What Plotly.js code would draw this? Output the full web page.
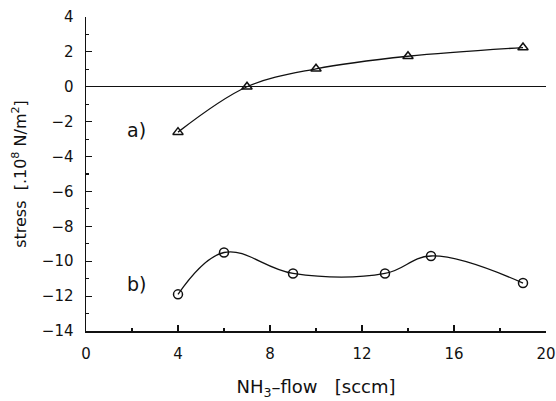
<!DOCTYPE html>
<html>
<head>
<meta charset="utf-8">
<script src="https://cdn.plot.ly/plotly-3.0.1.min.js"></script>
<style>html,body{margin:0;padding:0;background:#fff}#chart{width:556px;height:401px}</style>
</head>
<body>
<div id="chart"></div>
<script>
const flowA = [4, 7, 10, 14, 19];
const stressA = [-2.6, 0.0, 1.03, 1.75, 2.25];
const flowB = [4, 6, 9, 13, 15, 19];
const stressB = [-11.9, -9.5, -10.7, -10.7, -9.7, -11.25];
const seriesLabels = ["a)", "b)"];
const labelPos = [[2.2, -2.5], [2.2, -11.3]];
const yTickVals = [-14, -12, -10, -8, -6, -4, -2, 0, 2, 4];
const yTickText = ["\u221214","\u221212","\u221210","\u22128","\u22126","\u22124","\u22122","0","2","4"];
const xTickVals = [0, 4, 8, 12, 16, 20];

const fontFam = "DejaVu Sans, sans-serif";
const traces = [
  {x: flowA, y: stressA, mode: "lines+markers", line: {shape: "spline", smoothing: 1.0, color: "#111", width: 1.3},
   marker: {symbol: "triangle-up-open", size: 9, color: "#111", line: {width: 1.5}}},
  {x: flowB, y: stressB, mode: "lines+markers", line: {shape: "spline", smoothing: 1.1, color: "#111", width: 1.3},
   marker: {symbol: "circle-open", size: 9, color: "#111", line: {width: 1.5}}}
];
const layout = {
  width: 556, height: 401,
  margin: {l: 86, r: 10, t: 17, b: 70},
  showlegend: false,
  paper_bgcolor: "#fff", plot_bgcolor: "#fff",
  font: {family: fontFam, size: 15, color: "#111"},
  xaxis: {range: [0, 20], tickvals: xTickVals, ticks: "inside", ticklen: 6, tickwidth: 1.2, tickcolor: "#111",
    minor: {ticks: "inside", dtick: 2, ticklen: 3, tickcolor: "#111", showgrid: false},
    showline: true, linewidth: 1.5, linecolor: "#111", showgrid: false, zeroline: false, mirror: false,
    ticklabelstandoff: 8,
    title: {text: "NH<sub>3</sub>\u2013flow\u00a0\u00a0\u00a0[sccm]", font: {size: 18}, standoff: 19}},
  yaxis: {range: [-14, 4], tickvals: yTickVals, ticktext: yTickText,
    ticks: "inside", ticklen: 6, tickwidth: 1.2, tickcolor: "#111",
    minor: {ticks: "inside", dtick: 1, ticklen: 3, tickcolor: "#111", showgrid: false},
    showline: true, linewidth: 1.5, linecolor: "#111", showgrid: false,
    zeroline: true, zerolinecolor: "#111", zerolinewidth: 1.2, mirror: false,
    ticklabelstandoff: 8,
    title: {text: "stress\u00a0\u00a0[.10<sup>8</sup>\u00a0N/m<sup>2</sup>]", font: {size: 16}, standoff: 11}},
  annotations: seriesLabels.map((t, i) => ({x: labelPos[i][0], y: labelPos[i][1], text: t, showarrow: false,
    font: {size: 19, color: "#111", family: fontFam}}))
};
Plotly.newPlot("chart", traces, layout, {displayModeBar: false, staticPlot: true});
</script>
</body>
</html>
